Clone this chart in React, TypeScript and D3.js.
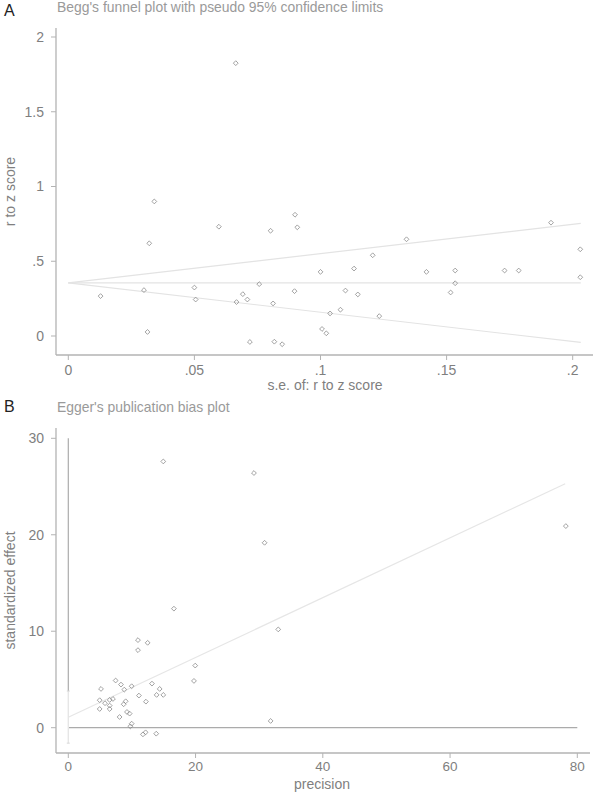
import React from "react";
import * as d3 from "d3";

// Panel A: Begg's funnel plot
const beggSe = [
  0.0664, 0.0341, 0.0597, 0.0321, 0.0802, 0.0899, 0.0908, 0.0128, 0.03, 0.05,
  0.0505, 0.0667, 0.0692, 0.071, 0.0757, 0.0812, 0.0897, 0.0314, 0.072, 0.0817,
  0.0848, 0.1914, 0.203, 0.203, 0.1341, 0.1207, 0.1, 0.1133, 0.142, 0.1534,
  0.1534, 0.1516, 0.173, 0.1786, 0.1099, 0.1148, 0.1038, 0.1079, 0.1233, 0.1006,
  0.1023,
];
const beggZ = [
  1.825, 0.9, 0.731, 0.62, 0.704, 0.811, 0.727, 0.267, 0.307, 0.324,
  0.244, 0.227, 0.28, 0.244, 0.347, 0.218, 0.3, 0.027, -0.04, -0.038,
  -0.055, 0.758, 0.58, 0.393, 0.647, 0.54, 0.429, 0.451, 0.429, 0.438,
  0.353, 0.291, 0.438, 0.438, 0.304, 0.278, 0.151, 0.176, 0.133, 0.047,
  0.018,
];
const beggXTicks = [0, 0.05, 0.1, 0.15, 0.2];
const beggYTicks = [0, 0.5, 1, 1.5, 2];
const beggPooled = 0.355;
const beggSeMax = 0.2032;

// Panel B: Egger's publication bias plot
const eggerPrecision = [
  14.93, 29.18, 30.85, 78.2, 16.6, 33.0, 10.95, 12.47, 10.95, 19.95,
  19.75, 7.44, 8.28, 9.96, 8.8, 5.14, 13.15, 14.36, 13.88, 14.93,
  11.1, 12.2, 4.93, 6.5, 7.02, 5.77, 9.02, 8.7, 6.5, 4.93,
  6.5, 9.22, 9.64, 8.06, 9.96, 9.75, 11.73, 12.15, 13.82, 31.8,
];
const eggerEffect = [
  27.6, 26.4, 19.17, 20.9, 12.34, 10.19, 9.08, 8.8, 8.04, 6.44,
  4.85, 4.89, 4.47, 4.3, 3.95, 4.02, 4.57, 4.02, 3.4, 3.4,
  3.33, 2.7, 2.85, 2.88, 2.98, 2.54, 2.74, 2.43, 2.29, 1.94,
  1.94, 1.63, 1.46, 1.11, 0.42, 0.14, -0.69, -0.48, -0.62, 0.7,
];
const eggerXTicks = [0, 20, 40, 60, 80];
const eggerYTicks = [0, 10, 20, 30];
const eggerIntercept = 1.08;
const eggerSlope = 0.31;
const eggerInterceptCi = [-1.6, 3.8];
const eggerLineEnd = 78.1;

const font = "'Liberation Sans', Arial, sans-serif";
const axisColor = "#b3b3b3";
const tickText = "#7f7f7f";
const titleColor = "#9a9a9a";
const pointColor = "#8a8a8a";

const stataFmt = (v: number) => (v === 0 ? "0" : String(v).replace(/^0\./, "."));

const diamond = "M0,-2.4L2.4,0L0,2.4L-2.4,0Z";

const App = () => {
  // panel A scales
  const xA = d3.scaleLinear().domain([0, 0.2]).range([68.3, 572.7]);
  const yA = d3.scaleLinear().domain([0, 2]).range([336, 37]);
  // panel B scales
  const xB = d3.scaleLinear().domain([0, 80]).range([68.3, 577.3]);
  const yB = d3.scaleLinear().domain([0, 30]).range([727.7, 438.3]);

  const funnel = d3
    .line<number[]>()
    .x((d) => xA(d[0]))
    .y((d) => yA(d[1]));
  const upper = [
    [0, beggPooled],
    [beggSeMax, beggPooled + 1.96 * beggSeMax],
  ];
  const lower = [
    [0, beggPooled],
    [beggSeMax, beggPooled - 1.96 * beggSeMax],
  ];
  const mid = [
    [0, beggPooled],
    [beggSeMax, beggPooled],
  ];

  return (
    <svg
      width={600}
      height={793}
      style={{ position: "absolute", left: 0, top: 0, background: "#fff" }}
      fontFamily={font}
    >
      {/* ---------- Panel A ---------- */}
      <text x={4} y={16} fontSize={16} fill="#222">A</text>
      <text x={57} y={12} fontSize={13.9} fill={titleColor}>
        Begg's funnel plot with pseudo 95% confidence limits
      </text>

      <line x1={56} x2={56} y1={28} y2={355} stroke={axisColor} strokeWidth={1.3} />
      <line x1={56} x2={593} y1={355} y2={355} stroke={axisColor} strokeWidth={1.3} />
      {beggYTicks.map((t) => (
        <g key={"ya" + t}>
          <line x1={51} x2={56} y1={yA(t)} y2={yA(t)} stroke={axisColor} />
          <text x={44} y={yA(t)} dy="0.35em" textAnchor="end" fontSize={14} fill={tickText}>
            {stataFmt(t)}
          </text>
        </g>
      ))}
      {beggXTicks.map((t) => (
        <g key={"xa" + t}>
          <line x1={xA(t)} x2={xA(t)} y1={355} y2={360} stroke={axisColor} />
          <text x={xA(t)} y={375} textAnchor="middle" fontSize={14} fill={tickText}>
            {stataFmt(t)}
          </text>
        </g>
      ))}
      <text x={325} y={390} textAnchor="middle" fontSize={14} fill={tickText}>
        s.e. of: r to z score
      </text>
      <text
        transform={`translate(15,${(28 + 355) / 2}) rotate(-90)`}
        textAnchor="middle"
        fontSize={14}
        fill={tickText}
      >
        r to z score
      </text>

      {[upper, lower, mid].map((d, i) => (
        <path key={"f" + i} d={funnel(d) || ""} stroke="#e3e3e3" strokeWidth={1.2} fill="none" />
      ))}
      {beggSe.map((s, i) => (
        <path
          key={"pa" + i}
          d={diamond}
          transform={`translate(${xA(s)},${yA(beggZ[i])})`}
          fill="none"
          stroke={pointColor}
          strokeWidth={0.8}
        />
      ))}

      {/* ---------- Panel B ---------- */}
      <text x={4} y={412} fontSize={16} fill="#222">B</text>
      <text x={57} y={412} fontSize={13.9} fill={titleColor}>
        Egger's publication bias plot
      </text>

      <line x1={56} x2={56} y1={428} y2={753} stroke={axisColor} strokeWidth={1.3} />
      <line x1={56} x2={590} y1={753} y2={753} stroke={axisColor} strokeWidth={1.3} />
      {eggerYTicks.map((t) => (
        <g key={"yb" + t}>
          <line x1={51} x2={56} y1={yB(t)} y2={yB(t)} stroke={axisColor} />
          <text x={44} y={yB(t)} dy="0.35em" textAnchor="end" fontSize={14} fill={tickText}>
            {t}
          </text>
        </g>
      ))}
      {eggerXTicks.map((t) => (
        <g key={"xb" + t}>
          <line x1={xB(t)} x2={xB(t)} y1={753} y2={758} stroke={axisColor} />
          <text x={xB(t)} y={771} textAnchor="middle" fontSize={13.5} fill={tickText}>
            {t}
          </text>
        </g>
      ))}
      <text x={322} y={789} textAnchor="middle" fontSize={14} fill={tickText}>
        precision
      </text>
      <text
        transform={`translate(15,${(428 + 753) / 2}) rotate(-90)`}
        textAnchor="middle"
        fontSize={14}
        fill={tickText}
      >
        standardized effect
      </text>

      {/* zero reference line */}
      <line x1={xB(0)} x2={xB(80)} y1={yB(0)} y2={yB(0)} stroke="#ababab" strokeWidth={1.2} />
      {/* vertical line at precision 0 */}
      <line x1={xB(0)} x2={xB(0)} y1={yB(30)} y2={yB(eggerInterceptCi[1])} stroke="#ababab" strokeWidth={1.2} />
      <line
        x1={xB(0)}
        x2={xB(0)}
        y1={yB(eggerInterceptCi[1])}
        y2={yB(eggerInterceptCi[0])}
        stroke="#e6e6e6"
        strokeWidth={1.4}
      />
      {eggerInterceptCi.map((c) => (
        <line key={"ci" + c} x1={xB(0) - 1.5} x2={xB(0) + 1.5} y1={yB(c)} y2={yB(c)} stroke="#d8d8d8" />
      ))}
      {/* regression line */}
      <line
        x1={xB(0)}
        x2={xB(eggerLineEnd)}
        y1={yB(eggerIntercept)}
        y2={yB(eggerIntercept + eggerSlope * eggerLineEnd)}
        stroke="#e6e6e6"
        strokeWidth={1.2}
      />
      {eggerPrecision.map((p, i) => (
        <path
          key={"pb" + i}
          d={diamond}
          transform={`translate(${xB(p)},${yB(eggerEffect[i])})`}
          fill="none"
          stroke={pointColor}
          strokeWidth={0.8}
        />
      ))}
    </svg>
  );
};

export default App;
